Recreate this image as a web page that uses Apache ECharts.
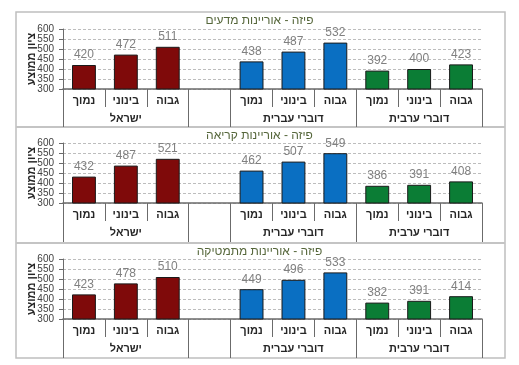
<!DOCTYPE html>
<html>
<head>
<meta charset="utf-8">
<script src="https://cdn.jsdelivr.net/npm/echarts@6/dist/echarts.min.js"></script>
<style>
html,body{margin:0;padding:0;background:#fff;}
#main{width:519px;height:365px;}
</style>
</head>
<body>
<div id="main"></div>
<script>
// ---- data ----
const categories = ['נמוך', 'בינוני', 'גבוה', '', 'נמוך', 'בינוני', 'גבוה', 'נמוך', 'בינוני', 'גבוה'];
const groupLabels = ['', 'ישראל', '', '', '', 'דוברי עברית', '', '', 'דוברי ערבית', ''];
const groupOfCategory = [0, 0, 0, -1, 1, 1, 1, 2, 2, 2];
const groupStartIndices = [0, 3, 4, 7];
const panelTitles = ['פיזה - אוריינות מדעים', 'פיזה - אוריינות קריאה', 'פיזה - אוריינות מתמטיקה'];
const scienceValues = [420, 472, 511, null, 438, 487, 532, 392, 400, 423];
const readingValues = [432, 487, 521, null, 462, 507, 549, 386, 391, 408];
const mathValues = [423, 478, 510, null, 449, 496, 533, 382, 391, 414];
const yAxisName = 'ציון ממוצע';
const yMin = 300, yMax = 600, yStep = 50;

// ---- styles / layout ----
const groupColors = ['#7f0a0a', '#0a6fc2', '#0b7d35'];
const panelValues = [scienceValues, readingValues, mathValues];
const panelTops = [12, 127, 243];
const panelH = 115;
const gridTops = [29, 143, 259];
const gridH = 60;
const frameLeft = 16, frameRight = 505, frameBottom = 358;
const FONT = "'Liberation Sans','DejaVu Sans',Arial,sans-serif";

const chart = echarts.init(document.getElementById('main'), null, {renderer: 'canvas'});

const titles = [], grids = [], xAxes = [], yAxes = [], series = [];
panelValues.forEach((vals, p) => {
  titles.push({
    text: panelTitles[p], left: 'center', top: panelTops[p] + 3, padding: 0,
    textStyle: {fontFamily: FONT, fontSize: 12, fontWeight: 'normal', color: '#55663a'}
  });
  grids.push({left: 63, right: 37, top: gridTops[p], height: gridH, containLabel: false});
  // category axis
  xAxes.push({
    type: 'category', gridIndex: p, data: categories, position: 'bottom',
    axisLine: {show: true, lineStyle: {color: '#6b6b6b', width: 1.5}},
    axisTick: {show: true, length: 18, interval: 0, lineStyle: {color: '#6b6b6b', width: 1}},
    axisLabel: {interval: 0, margin: 6, fontFamily: FONT, fontSize: 11, fontWeight: 'bold', color: '#262626'},
    splitLine: {show: false}
  });
  // group axis
  xAxes.push({
    type: 'category', gridIndex: p, data: groupLabels, position: 'bottom',
    axisLine: {show: false},
    axisTick: {show: true, length: panelTops[p] + panelH - (gridTops[p] + gridH),
      interval: (i) => groupStartIndices.indexOf(i) >= 0,
      lineStyle: {color: '#6b6b6b', width: 1}},
    axisLabel: {interval: 0, margin: 24, fontFamily: FONT, fontSize: 11, fontWeight: 'bold', color: '#262626'},
    splitLine: {show: false}
  });
  yAxes.push({
    type: 'value', gridIndex: p, min: yMin, max: yMax, interval: yStep,
    name: yAxisName, nameLocation: 'middle', nameRotate: 90, nameGap: 26, nameMoveOverlap: false,
    nameTextStyle: {fontFamily: FONT, fontSize: 11, fontWeight: 'bold', color: '#262626'},
    axisLine: {show: true, lineStyle: {color: '#6b6b6b', width: 1}},
    axisTick: {show: true, length: 4, lineStyle: {color: '#6b6b6b'}},
    axisLabel: {margin: 9, fontFamily: FONT, fontSize: 10, color: '#404040',
      showMinLabel: true, showMaxLabel: true, hideOverlap: false, minMargin: 0},
    splitLine: {show: true, lineStyle: {color: '#bdbdbd', type: [3, 2], width: 1}}
  });
  series.push({
    type: 'bar', xAxisIndex: p * 2, yAxisIndex: p, barWidth: '57%',
    data: vals.map((v, i) => ({
      value: v,
      itemStyle: {color: groupOfCategory[i] >= 0 ? groupColors[groupOfCategory[i]] : 'transparent'}
    })),
    itemStyle: {borderColor: '#1a1a1a', borderWidth: 1},
    label: {show: true, position: 'top', distance: 4, fontFamily: FONT, fontSize: 12, color: '#808080'},
    silent: true, animation: false
  });
});

const graphics = [
  {type: 'rect', shape: {x: frameLeft, y: panelTops[0], width: frameRight - frameLeft, height: frameBottom - panelTops[0]},
   style: {fill: 'none', stroke: '#bfbfbf', lineWidth: 1.5}, silent: true}
];
[panelTops[1], panelTops[2]].forEach(y => {
  graphics.push({type: 'line', shape: {x1: frameLeft, y1: y, x2: frameRight, y2: y},
    style: {stroke: '#c4c4c4', lineWidth: 2}, silent: true});
});

chart.setOption({
  backgroundColor: '#fff',
  animation: false,
  title: titles,
  grid: grids,
  xAxis: xAxes,
  yAxis: yAxes,
  series: series,
  graphic: graphics
});
</script>
</body>
</html>
